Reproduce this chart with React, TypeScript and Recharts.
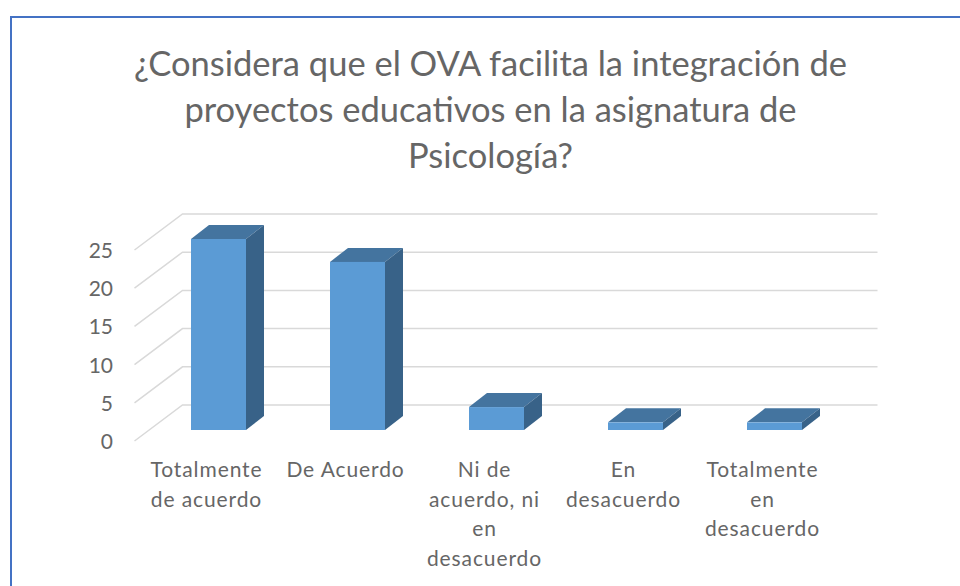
import React from "react";
import { BarChart, Bar, XAxis, YAxis, CartesianGrid } from "recharts";

const categories = ["Totalmente de acuerdo", "De Acuerdo", "Ni de acuerdo, ni en desacuerdo", "En desacuerdo", "Totalmente en desacuerdo"];
const categoryLines = [["Totalmente", "de acuerdo"], ["De Acuerdo"], ["Ni de", "acuerdo, ni", "en", "desacuerdo"], ["En", "desacuerdo"], ["Totalmente", "en", "desacuerdo"]];
const values = [25, 22, 3, 1, 1];
const yTicks = [0, 5, 10, 15, 20, 25];
const titleLines = ["¿Considera que el OVA facilita la integración de", "proyectos educativos en la asignatura de", "Psicología?"];
const rows = categories.map((name, i) => ({ name, value: values[i] }));

const FONT = "Lato, 'Open Sans', sans-serif";
const TEXT = "#666666";
const DX = 18;
const DY = 14;

const Bar3D = (p: any) => {
  const { x, y, width, height } = p;
  const r = x + width;
  const b = y + height;
  return (
    <g>
      <polygon points={`${x},${y} ${x + DX},${y - DY} ${r + DX},${y - DY} ${r},${y}`} fill="#44749F" />
      <polygon points={`${r},${y} ${r + DX},${y - DY} ${r + DX},${b - DY} ${r},${b}`} fill="#386288" />
      <rect x={x} y={y} width={width} height={height} fill="#5B9BD5" />
    </g>
  );
};

const GridLine = (p: any) => {
  const { x1, x2, y1 } = p;
  return (
    <path
      key={y1}
      d={`M${x1 - 14.5},${y1 + 11} L${x1 + 33.5},${y1 - 25} L${x2 + 33.5},${y1 - 25}`}
      fill="none"
      stroke="#D9D9D9"
      strokeWidth={1.5}
    />
  );
};

const YTick = (p: any) => (
  <text x={113} y={p.y + 19} textAnchor="end" fontFamily={FONT} fontSize={21} fill={TEXT}>
    {p.payload.value}
  </text>
);

const XTick = (p: any) => {
  const lines = categoryLines[p.index] || [];
  return (
    <text textAnchor="middle" fontFamily={FONT} fontSize={21} fill={TEXT} letterSpacing={0.9}>
      {lines.map((l, i) => (
        <tspan key={i} x={p.x - 12} y={477 + i * 29.7}>{l}</tspan>
      ))}
    </text>
  );
};

export default function App() {
  return (
    <div style={{ position: "absolute", left: 0, top: 0, width: 960, height: 586, overflow: "hidden", background: "#fff" }}>
      <div style={{ position: "absolute", left: 10, top: 16, width: 950, height: 570, borderLeft: "2px solid #4472C4", borderTop: "2px solid #4472C4", boxSizing: "border-box" }} />
      <div style={{ position: "absolute", left: 0, top: 40, width: 981, textAlign: "center", fontFamily: FONT, fontSize: 34.5, lineHeight: "46px", color: TEXT }}>
        {titleLines.map((l) => <div key={l}>{l}</div>)}
      </div>
      <div style={{ position: "absolute", left: 0, top: 0 }}>
        <BarChart width={960} height={586} data={rows} barSize={55} margin={{ top: 239, right: 116, bottom: 0, left: 89 }}>
          <CartesianGrid vertical={false} horizontal={GridLine as any} />
          <XAxis dataKey="name" height={156} axisLine={false} tickLine={false} interval={0} tick={XTick as any} />
          <YAxis width={60} domain={[0, 25]} ticks={yTicks} axisLine={false} tickLine={false} tick={YTick as any} />
          <Bar dataKey="value" isAnimationActive={false} shape={Bar3D as any} />
        </BarChart>
      </div>
    </div>
  );
}
